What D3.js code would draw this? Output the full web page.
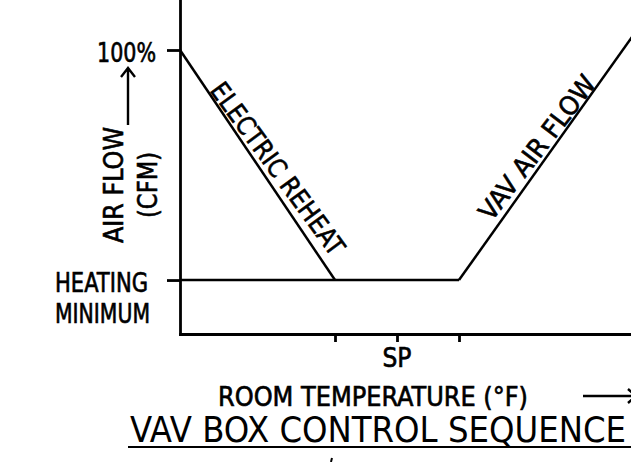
<!DOCTYPE html>
<html>
<head>
<meta charset="utf-8">
<script src="https://cdn.jsdelivr.net/npm/d3@7"></script>
<style>
  html, body { margin: 0; padding: 0; background: #fff; }
  svg { display: block; }
  text { font-family: "Liberation Sans Narrow", "DejaVu Sans Condensed", "Liberation Sans", sans-serif; fill: #000; }
  text.label { stroke: #000; stroke-width: 0.6px; }
  .axis path, .axis line { stroke: #000; stroke-width: 2.8; }
</style>
</head>
<body>
<div id="chart"></div>
<script>
const svgWidth = 631;
const svgHeight = 462;

// room temperature steps (one unit = one tick interval), air flow as share of 100%
const tempTicks = [2.5, 3.5, 4.5];
const tempTickLabels = ["", "SP", ""];
const flowTicks = [1.0, 0.19];
const flowTickLabels = [["100%"], ["HEATING", "MINIMUM"]];

const reheatSeries = [[0, 1.0], [2.5, 0.19]];
const minimumSeries = [[0, 0.19], [4.5, 0.19]];
const vavSeries = [[4.5, 0.19], [7.5, 1.11]];

const svg = d3.select("#chart")
  .append("svg")
  .attr("width", svgWidth)
  .attr("height", svgHeight)
  .attr("viewBox", `0 0 ${svgWidth} ${svgHeight}`);

const xScale = d3.scaleLinear().domain([0, 7.5]).range([180, 180 + 7.5 * 62]);
const yScale = d3.scaleLinear().domain([0, 1.2]).range([334, 334 - 1.2 * 284]);

// axes
svg.append("g")
  .attr("class", "axis")
  .attr("transform", `translate(0,${yScale(0)})`)
  .call(d3.axisBottom(xScale).tickValues(tempTicks).tickSize(8).tickSizeOuter(0).tickFormat(""))
  .call((g) => g.selectAll("text").remove());

svg.append("g")
  .attr("class", "axis")
  .attr("transform", `translate(${xScale(0)},0)`)
  .call(d3.axisLeft(yScale).tickValues(flowTicks).tickSize(13).tickSizeOuter(0).tickFormat(""))
  .call((g) => g.selectAll("text").remove());

svg.selectAll(".axis path").attr("stroke-linecap", "square");

// sequence lines
const line = d3.line().x((d) => xScale(d[0])).y((d) => yScale(d[1]));
[reheatSeries, minimumSeries, vavSeries].forEach((s) => {
  svg.append("path")
    .attr("d", line(s))
    .attr("fill", "none")
    .attr("stroke", "#000")
    .attr("stroke-width", 2.5);
});

// label along a segment: fraction t along it, offset d to the left of travel direction
function segmentLabel(series, text, t, d, angleAdjust, length) {
  const x0 = xScale(series[0][0]), y0 = yScale(series[0][1]);
  const x1 = xScale(series[1][0]), y1 = yScale(series[1][1]);
  const dx = x1 - x0, dy = y1 - y0;
  const angle = Math.atan2(dy, dx) * 180 / Math.PI + angleAdjust;
  svg.append("text")
    .attr("class", "label")
    .attr("transform", `translate(${x0 + dx * t},${y0 + dy * t}) rotate(${angle})`)
    .attr("y", -d)
    .attr("font-size", "26px")
    .attr("textLength", length)
    .attr("lengthAdjust", "spacingAndGlyphs")
    .text(text);
}

segmentLabel(reheatSeries, "ELECTRIC REHEAT", 0.18, 1.5, -2.3, 207);
segmentLabel(vavSeries, "VAV AIR FLOW", 0.205, 7, 2, 174);

// y tick labels
svg.append("text")
  .attr("class", "label")
  .attr("x", 156)
  .attr("y", yScale(flowTicks[0]) + 12)
  .attr("text-anchor", "end")
  .attr("font-size", "26px")
  .attr("textLength", 59)
  .attr("lengthAdjust", "spacingAndGlyphs")
  .text(flowTickLabels[0][0]);

flowTickLabels[1].forEach((label, i) => {
  svg.append("text")
    .attr("class", "label")
    .attr("x", 55)
    .attr("y", yScale(flowTicks[1]) + 12 + i * 31)
    .attr("font-size", "26px")
    .attr("textLength", i === 0 ? 93 : 95)
    .attr("lengthAdjust", "spacingAndGlyphs")
    .text(label);
});

// y axis title
svg.append("text")
  .attr("class", "label")
  .attr("transform", "translate(123,185) rotate(-90)")
  .attr("text-anchor", "middle")
  .attr("font-size", "27px")
  .attr("textLength", 116)
  .attr("lengthAdjust", "spacingAndGlyphs")
  .text("AIR FLOW");

svg.append("text")
  .attr("class", "label")
  .attr("transform", "translate(157,185) rotate(-90)")
  .attr("text-anchor", "middle")
  .attr("font-size", "26px")
  .attr("textLength", 66)
  .attr("lengthAdjust", "spacingAndGlyphs")
  .text("(CFM)");

svg.append("path")
  .attr("d", "M128,125 L128,69 M121,77 L128,68 L135,77")
  .attr("fill", "none")
  .attr("stroke", "#000")
  .attr("stroke-width", 2.4);

// x tick label
tempTicks.forEach((v, i) => {
  if (!tempTickLabels[i]) return;
  svg.append("text")
    .attr("class", "label")
    .attr("x", xScale(v))
    .attr("y", 367)
    .attr("text-anchor", "middle")
    .attr("font-size", "26px")
    .attr("textLength", 29)
    .attr("lengthAdjust", "spacingAndGlyphs")
    .text(tempTickLabels[i]);
});

// x axis title
svg.append("text")
  .attr("class", "label")
  .attr("x", 218)
  .attr("y", 406)
  .attr("font-size", "26px")
  .attr("textLength", 310)
  .attr("lengthAdjust", "spacingAndGlyphs")
  .text("ROOM TEMPERATURE (°F)");

svg.append("path")
  .attr("d", "M583,396 L636,396 M628,389 L636,396 L628,403")
  .attr("fill", "none")
  .attr("stroke", "#000")
  .attr("stroke-width", 2.4);

// chart title
svg.append("text")
  .attr("x", 130)
  .attr("y", 442)
  .attr("font-size", "35px")
  .attr("textLength", 496)
  .attr("lengthAdjust", "spacingAndGlyphs")
  .text("VAV BOX CONTROL SEQUENCE");

svg.append("line")
  .attr("x1", 128).attr("x2", 640)
  .attr("y1", 447).attr("y2", 447)
  .attr("stroke", "#000")
  .attr("stroke-width", 2.2);

svg.append("line")
  .attr("x1", 332).attr("x2", 331)
  .attr("y1", 458).attr("y2", 462)
  .attr("stroke", "#000")
  .attr("stroke-width", 2);
</script>
</body>
</html>
